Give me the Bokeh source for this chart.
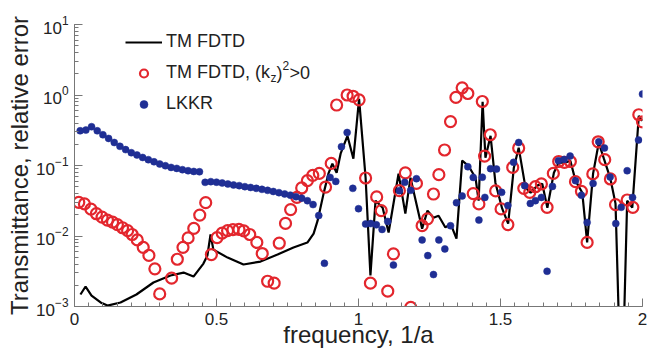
from bokeh.plotting import figure
from bokeh.models import FixedTicker, Legend, LegendItem, Label, Range1d
from bokeh.embed import file_html
from bokeh.resources import INLINE

# TM FDTD (line)
fdtd_x = [0.021, 0.039, 0.060, 0.092, 0.116, 0.162, 0.218, 0.278, 0.338, 0.384, 0.419, 0.454, 0.468,
          0.479, 0.489, 0.539, 0.595, 0.655, 0.715, 0.771, 0.820, 0.842, 0.856, 0.877, 0.894, 0.908,
          0.923, 0.937, 0.961, 0.982, 1.002, 1.025, 1.042, 1.060, 1.085, 1.106, 1.141, 1.165, 1.183,
          1.224, 1.243, 1.264, 1.282, 1.306, 1.324, 1.345, 1.365, 1.387, 1.412, 1.423, 1.437, 1.447,
          1.465, 1.482, 1.506, 1.527, 1.547, 1.564, 1.588, 1.606, 1.629, 1.647, 1.665, 1.688, 1.705,
          1.729, 1.746, 1.764, 1.788, 1.805, 1.826, 1.846, 1.864, 1.887, 1.905, 1.919, 1.933, 1.946,
          1.964, 1.987, 2.0]
fdtd_y = [1.48e-3, 1.92e-3, 1.43e-3, 1.14e-3, 1.03e-3, 1.14e-3, 1.48e-3, 2.19e-3, 2.75e-3, 3.03e-3,
          2.66e-3, 4.06e-3, 5.3e-3, 1.05e-2, 6.4e-3, 4.94e-3, 3.94e-3, 4.34e-3, 5.45e-3, 6.86e-3,
          8.07e-3, 1.08e-2, 1.65e-2, 3.99e-2, 7.66e-2, 0.106, 0.079, 0.147, 0.264, 0.125, 0.88, 0.067,
          2.75e-3, 0.0317, 0.0252, 0.0112, 0.0766, 0.0208, 0.0672, 0.0127, 0.0229, 0.0182, 0.0194,
          0.0132, 0.015, 0.0092, 0.117, 0.099, 0.067, 0.0317, 0.80, 0.129, 0.264, 0.057, 0.0244, 0.015,
          0.093, 0.179, 0.0485, 0.0412, 0.0518, 0.0552, 0.0252, 0.079, 0.110, 0.110, 0.117, 0.061,
          0.041, 0.0081, 0.0766, 0.210, 0.125, 0.065, 0.0288, 3e-4, 3e-4, 0.0317, 0.0252, 0.507, 0.43]

# TM FDTD, (kz)^2>0 (open circles)
kz_x = [0.015, 0.035, 0.058, 0.077, 0.097, 0.116, 0.134, 0.151, 0.169, 0.187, 0.203, 0.221, 0.242,
        0.262, 0.283, 0.300, 0.342, 0.362, 0.382, 0.400, 0.420, 0.441, 0.462, 0.482, 0.502, 0.520,
        0.539, 0.558, 0.579, 0.596, 0.617, 0.642, 0.661, 0.680, 0.703, 0.721, 0.743, 0.761, 0.783,
        0.800, 0.820, 0.839, 0.862, 0.884, 0.904, 0.923, 0.960, 0.981, 1.002, 1.025, 1.042, 1.064,
        1.080, 1.103, 1.123, 1.144, 1.165, 1.184, 1.204, 1.224, 1.243, 1.264, 1.283, 1.303, 1.324,
        1.343, 1.365, 1.385, 1.404, 1.424, 1.436, 1.444, 1.464, 1.483, 1.502, 1.526, 1.543, 1.564,
        1.582, 1.603, 1.623, 1.644, 1.664, 1.686, 1.705, 1.725, 1.746, 1.764, 1.785, 1.805, 1.825,
        1.844, 1.867, 1.887, 1.905, 1.946, 1.966, 1.987, 2.0]
kz_y = [0.030, 0.0285, 0.0240, 0.0207, 0.0185, 0.0168, 0.0157, 0.0145, 0.0131, 0.0119, 0.0105,
        0.0088, 0.0069, 0.0053, 0.00342, 0.00151, 0.00252, 0.00468, 0.0069, 0.0094, 0.0128, 0.0198,
        0.0297, 0.00546, 0.0095, 0.0110, 0.0119, 0.0123, 0.0124, 0.0118, 0.0105, 0.0081, 0.00564,
        0.00228, 0.00214, 0.0079, 0.0151, 0.0237, 0.0353, 0.048, 0.061, 0.0724, 0.0773, 0.0495,
        0.107, 0.721, 1.0, 0.959, 0.855, 0.0665, 0.00214, 0.0358, 0.0229, 0.00165, 0.00557, 0.044,
        0.0785, 0.00097, 0.0557, 0.0140, 0.0175, 0.0394, 0.0741, 0.166, 0.420, 0.923, 1.265, 1.05,
        0.040, 0.0285, 0.809, 0.136, 0.273, 0.0436, 0.0242, 0.0145, 0.094, 0.177, 0.0474, 0.0416,
        0.050, 0.0547, 0.0255, 0.0773, 0.114, 0.111, 0.114, 0.059, 0.043, 0.0081, 0.0759, 0.217,
        0.121, 0.0644, 0.0279, 0.0324, 0.0255, 0.525, 0.417]

# LKKR (filled dots)
lkkr_x = [0.02, 0.04, 0.06, 0.08, 0.10, 0.12, 0.14, 0.16, 0.18, 0.20, 0.22, 0.24, 0.26, 0.28, 0.30,
          0.32, 0.34, 0.36, 0.38, 0.40, 0.42, 0.44,
          0.46, 0.48, 0.50, 0.52, 0.54, 0.56, 0.58, 0.60, 0.62, 0.64, 0.66, 0.68, 0.70, 0.72, 0.74,
          0.76, 0.78, 0.80, 0.82, 0.84,
          0.86, 0.88, 0.90, 0.92, 0.94, 0.96, 0.98, 1.00,
          1.025, 1.043, 1.063, 1.083, 1.103, 1.123, 1.144, 1.163, 1.184, 1.204, 1.224, 1.244, 1.264,
          1.283, 1.304, 1.324, 1.345, 1.365, 1.385, 1.404, 1.424, 1.436, 1.445, 1.465, 1.486, 1.504,
          1.526, 1.546, 1.564, 1.585, 1.605, 1.623, 1.644, 1.664, 1.683, 1.704, 1.724, 1.745, 1.764,
          1.785, 1.805, 1.826, 1.846, 1.866, 1.886, 1.906, 1.925, 1.946, 1.965, 1.986, 2.0]
lkkr_y = [0.311, 0.318, 0.355, 0.311, 0.273, 0.242, 0.212, 0.187, 0.168, 0.152, 0.141, 0.130, 0.121,
          0.113, 0.105, 0.0993, 0.094, 0.091, 0.0873, 0.0843, 0.0824, 0.0816,
          0.0577, 0.0590, 0.0580, 0.0565, 0.0547, 0.0529, 0.0518, 0.0501, 0.0488, 0.0474, 0.0459,
          0.0444, 0.0428, 0.0412, 0.0395, 0.0380, 0.0361, 0.0344, 0.0317, 0.0279,
          0.0195, 0.0041, 0.0678, 0.0595, 0.185, 0.294, 0.0474, 0.0244,
          0.0148, 0.0150, 0.0144, 0.0124, 0.0161, 0.00387, 0.0440, 0.0577, 0.0444, 0.0650, 0.0088,
          0.00527, 0.00284, 0.0088, 0.00656, 0.0140, 0.0297, 0.0370, 0.0961, 0.0678, 0.0168, 0.0682,
          0.0353, 0.0902, 0.0891, 0.0416, 0.0270, 0.111, 0.212, 0.0518, 0.0290, 0.0317, 0.0353,
          0.00316, 0.0505, 0.117, 0.122, 0.136, 0.061, 0.0379, 0.0156, 0.0557, 0.217, 0.177, 0.0687,
          0.0150, 0.0255, 0.0843, 0.0353, 0.230, 1.03]

x_ticks = [0, 0.5, 1, 1.5, 2]
x_tick_labels = ["0", "0.5", "1", "1.5", "2"]

RED = "#e3262d"
BLUE = "#1f2e94"
FONT = "Liberation Sans"

p = figure(width=647, height=353, y_axis_type="log",
           x_range=Range1d(0, 2), y_range=Range1d(1e-3, 10),
           output_backend="svg", toolbar_location=None,
           min_border_left=74, min_border_right=5, min_border_top=24, min_border_bottom=47)
p.grid.visible = False
p.outline_line_color = None
p.background_fill_color = "white"

r_line = p.line(fdtd_x, fdtd_y, line_color="black", line_width=2.2)
r_kz = p.scatter(kz_x, kz_y, marker="circle", size=11, fill_color=None,
                 line_color=RED, line_width=2.2)
r_lk = p.scatter(lkkr_x, lkkr_y, marker="circle", size=7, fill_color=BLUE,
                 line_color=BLUE, line_width=0.5)

minor = [round(0.05 * i, 2) for i in range(41)]
p.xaxis.ticker = FixedTicker(ticks=x_ticks, minor_ticks=minor)
p.xaxis.major_label_overrides = {float(t): s for t, s in zip(x_ticks, x_tick_labels)}

for ax in (p.xaxis[0], p.yaxis[0]):
    ax.axis_line_color = "#777777"
    ax.major_tick_line_color = "#777777"
    ax.minor_tick_line_color = "#777777"
    ax.major_tick_in = 8
    ax.major_tick_out = 0
    ax.minor_tick_in = 4
    ax.minor_tick_out = 0
    ax.major_label_text_font = FONT
    ax.major_label_text_font_size = "17px"
    ax.major_label_text_color = "#222222"
    ax.axis_label_text_font = FONT
    ax.axis_label_text_font_size = "24px"
    ax.axis_label_text_font_style = "normal"
    ax.axis_label_text_color = "#222222"

p.xaxis.axis_label = "frequency, 1/a"
p.yaxis.axis_label = "Transmittance, relative error"
p.xaxis.major_label_standoff = 6
p.xaxis.axis_label_standoff = -7
p.yaxis.major_label_standoff = 6
p.yaxis.axis_label_standoff = 0

legend = Legend(items=[LegendItem(label="TM FDTD", renderers=[r_line]),
                       LegendItem(label="TM FDTD, (k", renderers=[r_kz]),
                       LegendItem(label="LKKR", renderers=[r_lk])],
                location=(51, 192), glyph_width=37, glyph_height=20, label_height=20,
                label_standoff=4, spacing=10, padding=0, margin=0,
                border_line_color=None, background_fill_alpha=0,
                label_text_font=FONT, label_text_font_size="18px", label_text_color="#222222")
p.add_layout(legend)

# sub/superscript pieces of the second legend label
pieces = [("z", 196, 229, "12px"), (")", 202, 234, "18px"), ("2", 208, 241, "12px"),
          (">0", 215, 234, "18px")]
for txt, lx, ly, fs in pieces:
    p.add_layout(Label(x=lx, y=ly, x_units="screen", y_units="screen", text=txt,
                       text_font=FONT, text_font_size=fs, text_color="#222222",
                       text_baseline="middle", text_align="left"))

open("out.html", "w").write(file_html(p, INLINE))
